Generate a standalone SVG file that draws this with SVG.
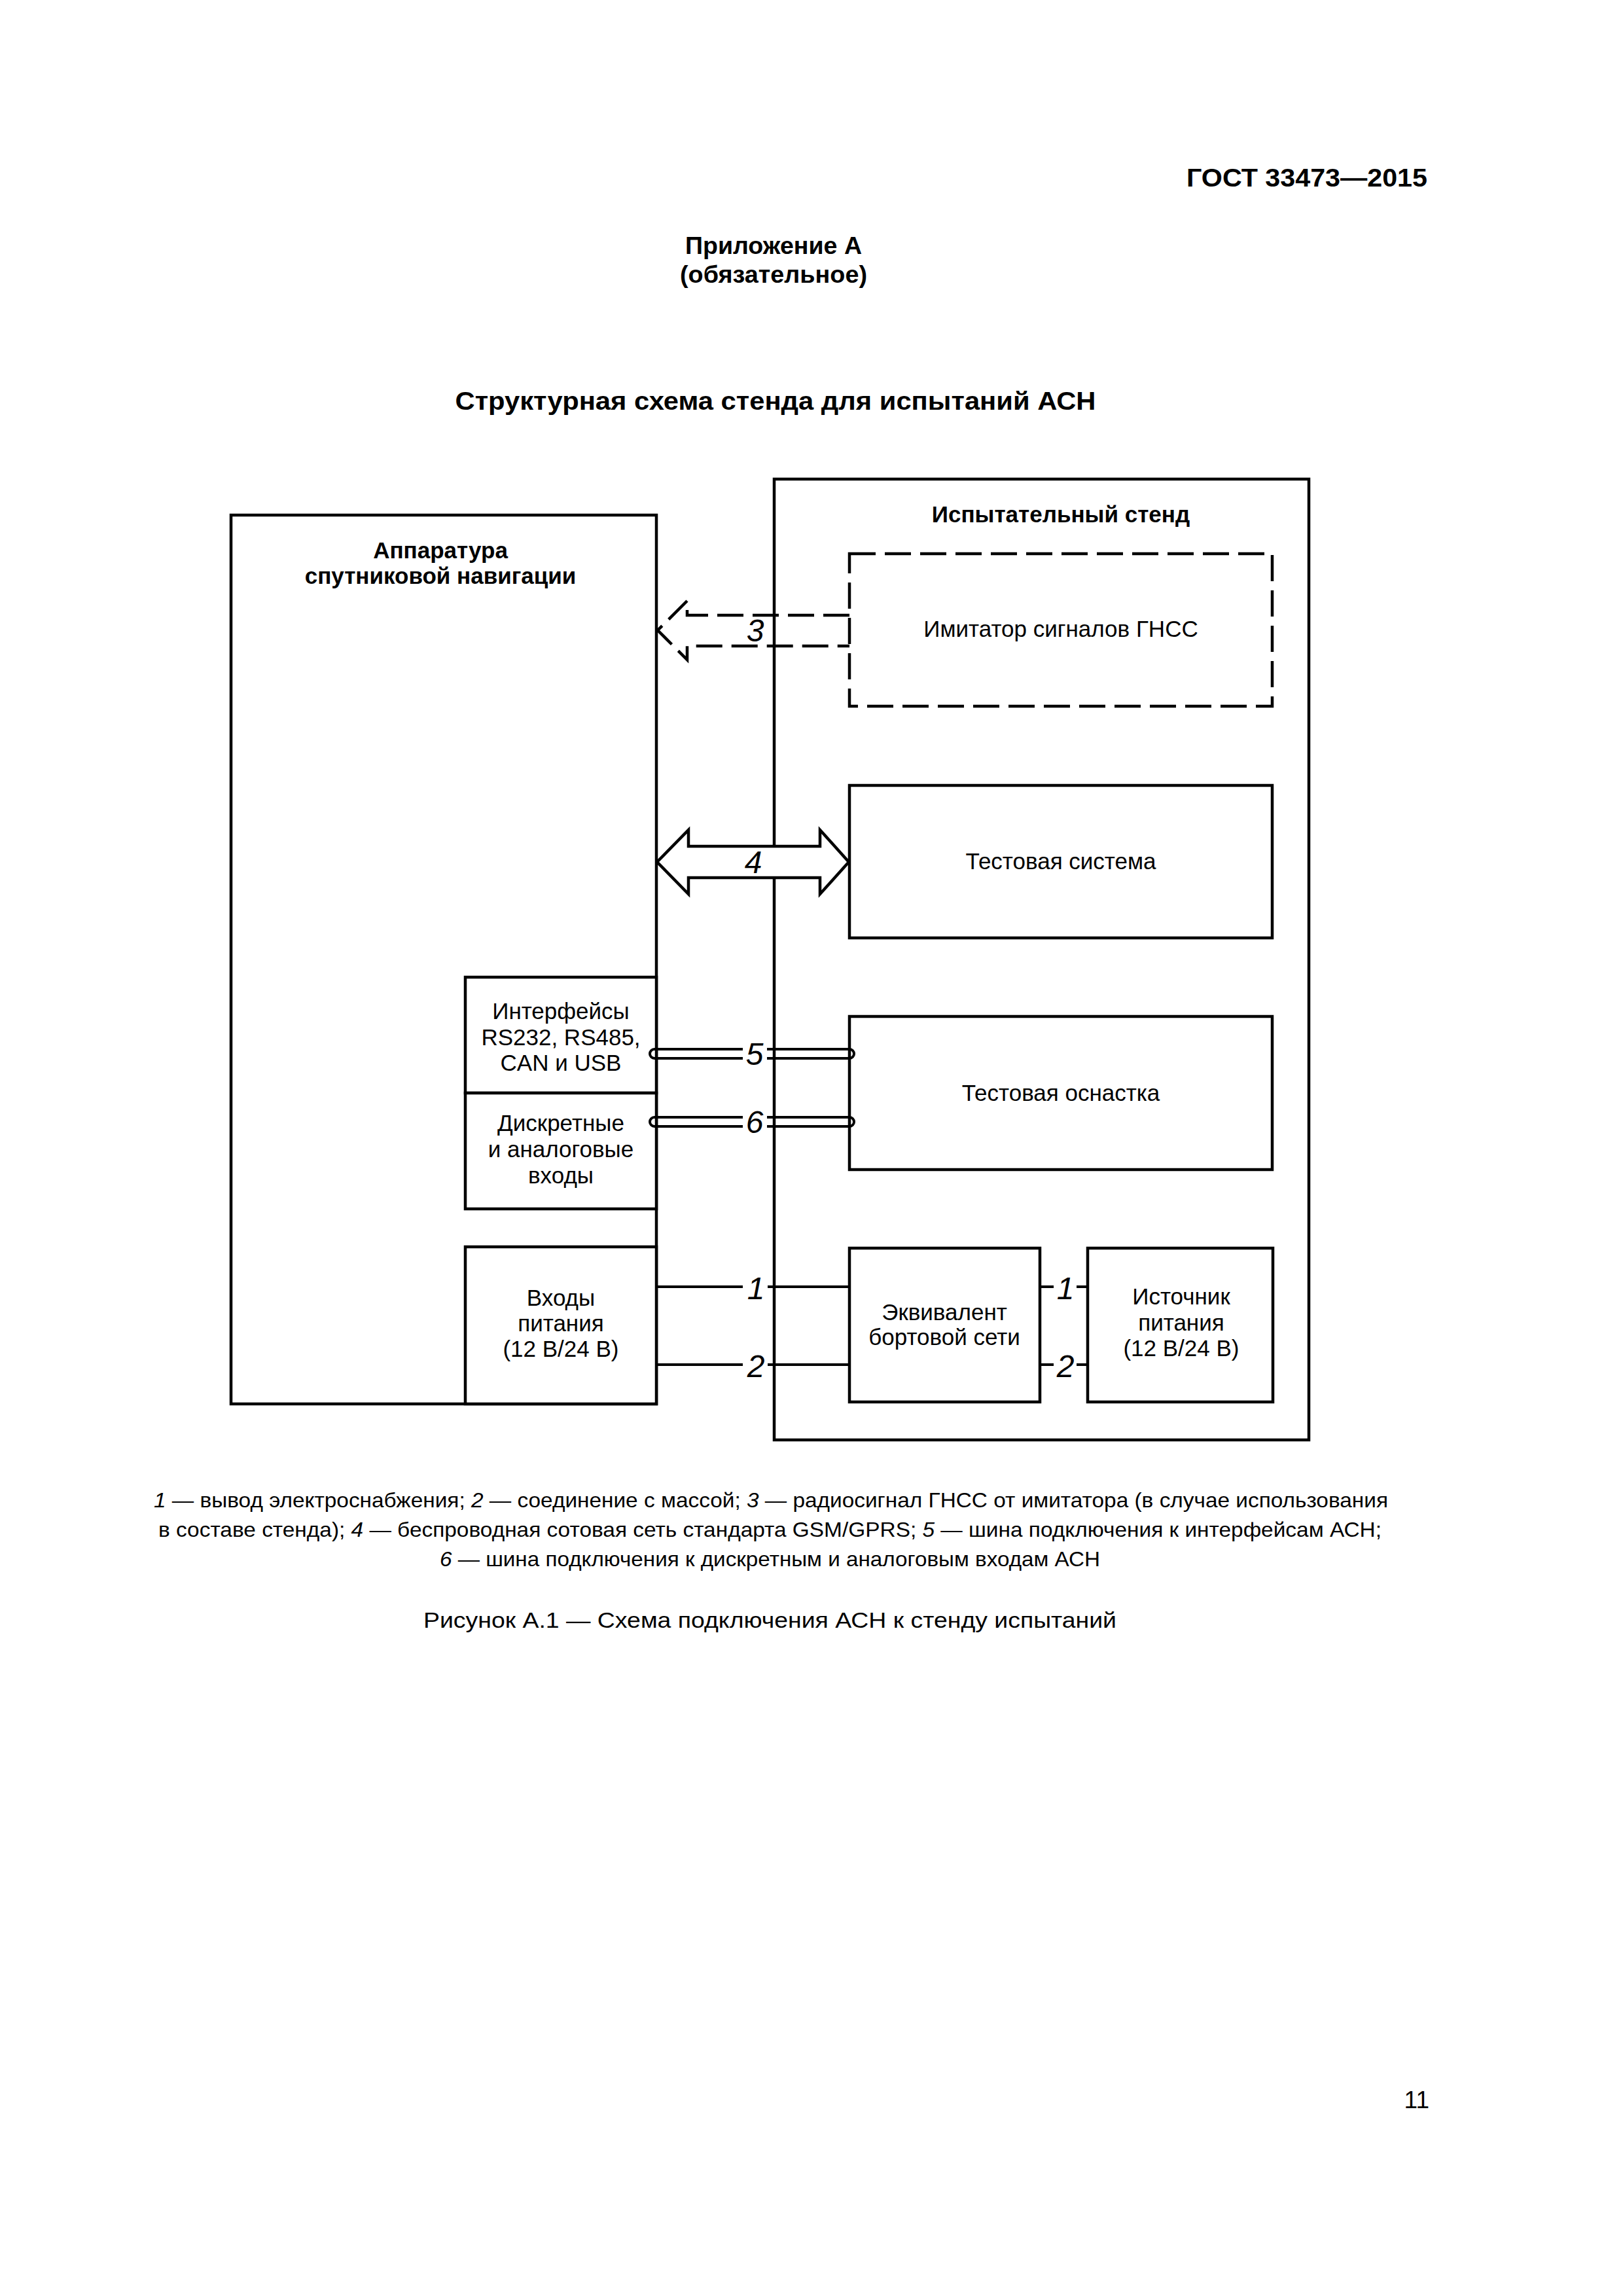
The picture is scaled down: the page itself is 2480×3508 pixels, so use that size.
<svg xmlns="http://www.w3.org/2000/svg" width="2480" height="3508" viewBox="0 0 2480 3508">
<style>
text{font-family:"Liberation Sans",Arial,sans-serif;fill:#000}
.b{font-weight:bold}
.t{font-size:35px;text-anchor:middle}
.tb{font-size:35px;font-weight:bold;text-anchor:middle}
.n{font-size:48px;font-style:italic;text-anchor:middle}
.lg{font-size:32px}
.i{font-style:italic}
.box{fill:#fff;stroke:#000;stroke-width:4.5}
.dash{fill:none;stroke:#000;stroke-width:4.5;stroke-dasharray:40 14}
.ln{fill:none;stroke:#000;stroke-width:4}
</style>
<rect width="2480" height="3508" fill="#fff"/>
<g id="header">
<text class="b" x="2181" y="285" font-size="38" text-anchor="end" textLength="368" lengthAdjust="spacingAndGlyphs">ГОСТ 33473—2015</text>
<text class="b" x="1182" y="388" font-size="36" text-anchor="middle" textLength="270" lengthAdjust="spacingAndGlyphs">Приложение А</text>
<text class="b" x="1182" y="432" font-size="36" text-anchor="middle" textLength="286" lengthAdjust="spacingAndGlyphs">(обязательное)</text>
<text class="b" x="1185" y="626" font-size="38" text-anchor="middle" textLength="979" lengthAdjust="spacingAndGlyphs">Структурная схема стенда для испытаний АСН</text>
</g>
<g id="stand">
<rect class="box" x="1183" y="732" width="817" height="1468"/>
<text class="tb" x="1621" y="798">Испытательный стенд</text>
</g>
<g id="asn">
<rect class="box" x="353" y="787" width="650" height="1358"/>
<text class="tb" x="673" y="853">Аппаратура</text>
<text class="tb" x="673" y="892">спутниковой навигации</text>
</g>
<g id="interfaces">
<rect class="box" x="711" y="1493" width="292" height="177"/>
<text class="t" x="857" y="1557">Интерфейсы</text>
<text class="t" x="857" y="1597">RS232, RS485,</text>
<text class="t" x="857" y="1636">CAN и USB</text>
</g>
<g id="discrete">
<rect class="box" x="711" y="1670" width="292" height="177"/>
<text class="t" x="857" y="1728">Дискретные</text>
<text class="t" x="857" y="1768">и аналоговые</text>
<text class="t" x="857" y="1808">входы</text>
</g>
<g id="power-in">
<rect class="box" x="711" y="1905" width="292" height="240"/>
<text class="t" x="857" y="1995">Входы</text>
<text class="t" x="857" y="2034">питания</text>
<text class="t" x="857" y="2073">(12 В/24 В)</text>
</g>
<g id="imitator">
<rect class="dash" x="1298" y="846" width="646" height="233"/>
<text class="t" x="1621" y="973">Имитатор сигналов ГНСС</text>
</g>
<g id="test-system">
<rect class="box" x="1298" y="1200" width="646" height="233"/>
<text class="t" x="1621" y="1328">Тестовая система</text>
</g>
<g id="test-rig">
<rect class="box" x="1298" y="1553" width="646" height="234"/>
<text class="t" x="1621" y="1682">Тестовая оснастка</text>
</g>
<g id="equivalent">
<rect class="box" x="1298" y="1907" width="291" height="235"/>
<text class="t" x="1443" y="2017">Эквивалент</text>
<text class="t" x="1443" y="2055">бортовой сети</text>
</g>
<g id="source">
<rect class="box" x="1662" y="1907" width="283" height="235"/>
<text class="t" x="1805" y="1993">Источник</text>
<text class="t" x="1805" y="2033">питания</text>
<text class="t" x="1805" y="2072">(12 В/24 В)</text>
</g>
<g id="connectors">
<path class="dash" stroke-width="4" d="M1298 940 H1050 V918 L1005 963 L1050 1008 V987 H1298"/>
<text class="n" x="1154" y="980">3</text>
<path fill="#fff" stroke="#000" stroke-width="4.5" stroke-linejoin="miter" d="M1004 1317 L1052 1268 V1293 H1253 V1268 L1297 1317 L1253 1366 V1341 H1052 V1366 Z"/>
<text class="n" x="1151" y="1334">4</text>
<path class="ln" d="M1000 1603 H1135 M1172 1603 H1298 A7 7 0 0 1 1298 1617 H1172 M1135 1617 H1000 A7 7 0 0 1 1000 1603"/>
<text class="n" x="1153" y="1627">5</text>
<path class="ln" d="M1000 1707 H1135 M1172 1707 H1298 A7 7 0 0 1 1298 1721 H1172 M1135 1721 H1000 A7 7 0 0 1 1000 1707"/>
<text class="n" x="1153" y="1731">6</text>
<path class="ln" d="M1003 1966 H1135 M1173 1966 H1298 M1003 2085 H1135 M1173 2085 H1298"/>
<text class="n" x="1155" y="1985">1</text>
<text class="n" x="1155" y="2104">2</text>
<path class="ln" d="M1589 1966 H1610 M1645 1966 H1662 M1589 2085 H1610 M1645 2085 H1662"/>
<text class="n" x="1628" y="1985">1</text>
<text class="n" x="1628" y="2104">2</text>
</g>
<g id="legend">
<text class="lg" x="235" y="2303" textLength="1886" lengthAdjust="spacingAndGlyphs"><tspan class="i">1</tspan> — вывод электроснабжения; <tspan class="i">2</tspan> — соединение с массой; <tspan class="i">3</tspan> — радиосигнал ГНСС от имитатора (в случае использования</text>
<text class="lg" x="242" y="2348" textLength="1869" lengthAdjust="spacingAndGlyphs">в составе стенда); <tspan class="i">4</tspan> — беспроводная сотовая сеть стандарта GSM/GPRS; <tspan class="i">5</tspan> — шина подключения к интерфейсам АСН;</text>
<text class="lg" x="672" y="2393" textLength="1009" lengthAdjust="spacingAndGlyphs"><tspan class="i">6</tspan> — шина подключения к дискретным и аналоговым входам АСН</text>
<text x="647" y="2487" font-size="34" textLength="1059" lengthAdjust="spacingAndGlyphs">Рисунок А.1 — Схема подключения АСН к стенду испытаний</text>
</g>
<g id="page-number">
<text x="2184" y="3221" font-size="37" text-anchor="end">11</text>
</g>
</svg>
